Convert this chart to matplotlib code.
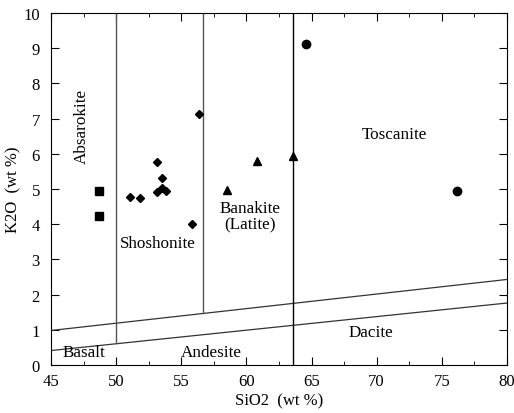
import matplotlib
matplotlib.use("Agg")
import matplotlib.pyplot as plt
from matplotlib.ticker import MultipleLocator

plt.rcParams['font.family'] = ['Liberation Serif', 'DejaVu Serif']

# 样品数据
sq_x = [48.7, 48.7]
sq_y = [4.93, 4.23]
dia_x = [51.1, 51.8, 53.1, 53.5, 53.1, 53.5, 53.8, 56.4, 55.85]
dia_y = [4.77, 4.75, 5.77, 5.30, 4.92, 5.02, 4.95, 7.12, 4.01]
tri_x = [58.5, 60.8, 63.55]
tri_y = [4.97, 5.80, 5.93]
cir_x = [64.6, 76.2]
cir_y = [9.12, 4.95]

# 分区边界
upper_x = [45, 80]
upper_y = [0.98, 2.43]
lower_x = [45, 80]
lower_y = [0.41, 1.76]
v1_x, v1_y = [50, 50], [0.62, 10]
v2_x, v2_y = [56.7, 56.7], [1.48, 10]
v3_x, v3_y = [63.6, 63.6], [0, 10]

fig = plt.figure(figsize=(5.14, 4.14), dpi=100)
ax = fig.add_axes([0.0992, 0.116, 0.887, 0.85])

ax.plot(upper_x, upper_y, color='#333333', lw=0.9)
ax.plot(lower_x, lower_y, color='#333333', lw=0.9)
ax.plot(v1_x, v1_y, color='#555555', lw=1.0)
ax.plot(v2_x, v2_y, color='#555555', lw=1.0)
ax.plot(v3_x, v3_y, color='black', lw=1.0)

ax.plot(sq_x, sq_y, 's', color='black', ms=6, ls='none')
ax.plot(dia_x, dia_y, 'D', color='black', ms=3.8, ls='none')
ax.plot(tri_x, tri_y, '^', color='black', ms=6, ls='none')
ax.plot(cir_x, cir_y, 'o', color='black', ms=6, ls='none')

fs = 12.3
ax.text(47.4, 6.8, 'Absarokite', rotation=90, ha='center', va='center', fontsize=fs)
ax.text(53.2, 3.47, 'Shoshonite', ha='center', va='center', fontsize=fs)
ax.text(60.3, 4.22, 'Banakite\n(Latite)', ha='center', va='center', fontsize=fs, linespacing=1.05)
ax.text(71.4, 6.56, 'Toscanite', ha='center', va='center', fontsize=fs)
ax.text(47.5, 0.37, 'Basalt', ha='center', va='center', fontsize=fs)
ax.text(57.3, 0.37, 'Andesite', ha='center', va='center', fontsize=fs)
ax.text(69.6, 0.94, 'Dacite', ha='center', va='center', fontsize=fs)

ax.set_xlim(45, 80)
ax.set_ylim(0, 10)
ax.xaxis.set_major_locator(MultipleLocator(5))
ax.xaxis.set_minor_locator(MultipleLocator(2.5))
ax.yaxis.set_major_locator(MultipleLocator(1))
ax.tick_params(which='both', direction='in', top=True, right=True, labelsize=12)
ax.tick_params(which='major', length=6)
ax.tick_params(which='minor', length=3)
ax.tick_params(axis='x', pad=6)
ax.tick_params(axis='y', pad=8)
ax.set_xlabel('SiO2  (wt %)', fontsize=12, labelpad=2)
ax.set_ylabel('K2O  (wt %)', fontsize=12, labelpad=1)

fig.savefig('out.png', dpi=100)
